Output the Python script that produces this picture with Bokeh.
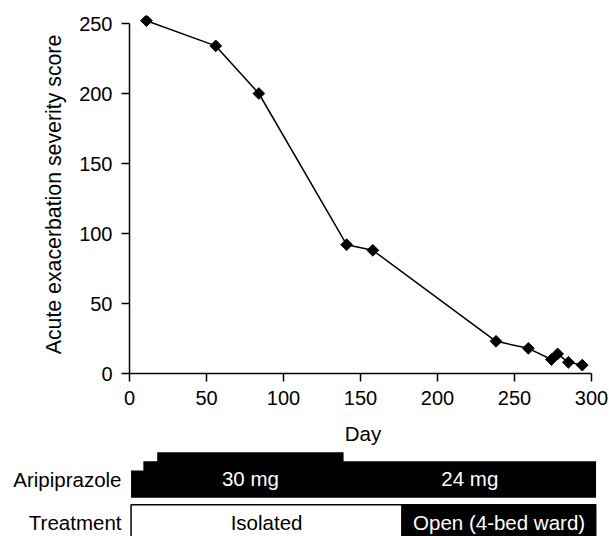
import math
from bokeh.plotting import figure
from bokeh.layouts import column
from bokeh.models import Range1d, FixedTicker, ColumnDataSource
from bokeh.core.properties import value
from bokeh.embed import file_html
from bokeh.resources import INLINE

# ---------------- data ----------------
days = [11, 56, 84, 141, 158, 238, 259, 274, 278, 285, 294]
scores = [252, 234, 200, 92, 88, 23, 18, 10, 14, 8, 6]

x_ticks = [0, 50, 100, 150, 200, 250, 300]
y_ticks = [0, 50, 100, 150, 200, 250]

dose_start = [1, 9, 18, 139]
dose_end = [9, 18, 139, 303]
dose_mg = [18, 24, 30, 24]
dose_labels = ["", "", "30 mg", "24 mg"]

phase_start = [1, 177]
phase_end = [177, 303]
phase_labels = ["Isolated", "Open (4-bed ward)"]

# ---------------- layout constants ----------------
FONT = "Liberation Sans"
TICK_FS = "20px"
LAB_FS = "20.5px"
W = 609
LEFT = 129
FRAME_W = 467
RIGHT = W - LEFT - FRAME_W
PX_PER_DAY = 1.54
X_END = FRAME_W / PX_PER_DAY

x_range = Range1d(0, X_END)

# ---------------- main plot ----------------
p = figure(width=W, height=451, title=None,
           x_range=x_range, y_range=Range1d(0, 358 / 1.4),
           output_backend="svg", toolbar_location=None,
           min_border_left=LEFT, min_border_right=RIGHT,
           min_border_top=15, min_border_bottom=78)
p.grid.visible = False
p.outline_line_color = None
p.background_fill_color = "white"
p.border_fill_color = "white"

for ax, ticks, bnds in ((p.xaxis[0], x_ticks, (0, 300)), (p.yaxis[0], y_ticks, (0, 250))):
    ax.ticker = FixedTicker(ticks=ticks)
    ax.bounds = bnds
    ax.axis_line_color = "black"
    ax.axis_line_width = 1.5
    ax.major_tick_line_color = "black"
    ax.major_tick_line_width = 1.5
    ax.major_tick_in = 0
    ax.major_tick_out = 8
    ax.minor_tick_line_color = None
    ax.major_label_text_font = FONT
    ax.major_label_text_font_size = TICK_FS
    ax.major_label_text_color = "black"
    ax.axis_label_text_font = FONT
    ax.axis_label_text_font_style = "normal"
    ax.axis_label_text_color = "black"

p.xaxis.axis_label = "Day"
p.xaxis.axis_label_text_font_size = LAB_FS
p.xaxis.major_label_standoff = 9
p.xaxis.axis_label_standoff = 14
p.yaxis.axis_label = "Acute exacerbation severity score"
p.yaxis.axis_label_text_font_size = "21.3px"
p.yaxis.major_label_standoff = 9
p.yaxis.axis_label_standoff = 10

src = ColumnDataSource(dict(x=days, y=scores))
p.line("x", "y", source=src, line_color="black", line_width=1.5)
p.scatter("x", "y", source=src, marker="square", angle=math.pi / 4, size=8.3,
          fill_color="black", line_color="black")


def strip(height, y0, y1, row_label, label_y):
    f = figure(width=W, height=height, title=None,
               x_range=x_range, y_range=Range1d(y0, y1),
               x_axis_type=None,
               output_backend="svg", toolbar_location=None,
               min_border_left=LEFT, min_border_right=RIGHT,
               min_border_top=0, min_border_bottom=0)
    f.grid.visible = False
    f.outline_line_color = None
    f.background_fill_color = "white"
    f.border_fill_color = "white"
    ax = f.yaxis[0]
    ax.ticker = FixedTicker(ticks=[label_y])
    ax.major_label_overrides = {label_y: row_label}
    ax.axis_line_color = None
    ax.major_tick_line_color = None
    ax.major_tick_out = 0
    ax.major_tick_in = 0
    ax.minor_tick_line_color = None
    ax.major_label_standoff = 8
    ax.major_label_text_font = FONT
    ax.major_label_text_font_size = LAB_FS
    ax.major_label_text_color = "black"
    return f


# ---------------- aripiprazole strip ----------------
MG_PX = 1.52
s1 = strip(50, -3.7 / MG_PX, 46.3 / MG_PX, "Aripiprazole", 12)
step_x = dose_start + [dose_end[-1]]
step_y = dose_mg + [dose_mg[-1]]
s1.varea_step(x=step_x, y1=[0] * len(step_x), y2=step_y, step_mode="after",
              fill_color="black")
dsrc = ColumnDataSource(dict(mid=[(a + b) / 2 for a, b in zip(dose_start, dose_end)],
                             lab=dose_labels))
s1.text(x="mid", y=12.8, text="lab", source=dsrc, text_color="white",
        text_font=value(FONT), text_font_size=value(LAB_FS),
        text_align="center", text_baseline="alphabetic")

# ---------------- treatment strip ----------------
s2 = strip(35, 0, 35, "Treatment", 14)
tsrc = ColumnDataSource(dict(left=phase_start, right=phase_end,
                             mid=[(a + b) / 2 for a, b in zip(phase_start, phase_end)],
                             lab=phase_labels,
                             fill=["white", "black"], tcol=["black", "white"]))
s2.quad(left="left", right="right", bottom=-5, top=31.7, source=tsrc,
        fill_color="fill", line_color="black", line_width=1.5)
s2.text(x="mid", y=14, text="lab", source=tsrc, text_color="tcol",
        text_font=value(FONT), text_font_size=value(LAB_FS),
        text_align="center", text_baseline="alphabetic")

layout = column(p, s1, s2, spacing=0)
open("out.html", "w").write(file_html(layout, INLINE))
